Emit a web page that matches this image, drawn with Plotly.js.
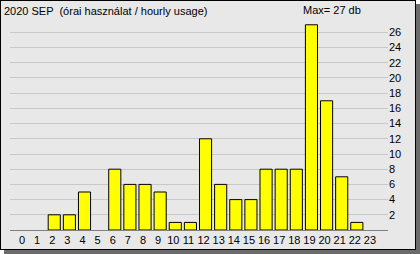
<!DOCTYPE html>
<html>
<head>
<meta charset="utf-8">
<script src="https://cdn.plot.ly/plotly-3.0.1.min.js"></script>
<style>
  html, body { margin: 0; padding: 0; background: #ffffff; }
  #frame {
    position: absolute; left: 0; top: 0;
    width: 416px; height: 250px; box-sizing: border-box;
    border: 1px solid #000000;
    box-shadow: 4px 4px 0 #6b6b6b;
    background: #e8e8e8;
  }
  #chart { width: 414px; height: 248px; }
</style>
</head>
<body>
<div id="frame"><div id="chart"></div></div>
<script>
const titleText = "2020 SEP  (órai használat / hourly usage)";
const hours = [0,1,2,3,4,5,6,7,8,9,10,11,12,13,14,15,16,17,18,19,20,21,22,23];
const usage = [0,0,2,2,5,0,8,6,6,5,1,1,12,6,4,4,8,8,8,27,17,7,1,0];
const yTicks = [2,4,6,8,10,12,14,16,18,20,22,24,26];

const maxVal = Math.max(...usage);
const font = { family: "Liberation Sans, Arial, sans-serif", size: 11, color: "#000000" };

const trace = {
  type: "bar",
  x: hours,
  y: usage.map(v => (v === 0 ? null : v)),
  marker: { color: "#ffff00", line: { color: "#000000", width: 1 } },
  hoverinfo: "none"
};

const layout = {
  width: 414, height: 248,
  margin: { l: 9, r: 27, t: 19, b: 19, pad: 0 },
  paper_bgcolor: "#e8e8e8",
  plot_bgcolor: "#e8e8e8",
  font: font,
  bargap: 0.2,
  showlegend: false,
  title: { text: titleText, font: font, x: 0, xref: "paper", xanchor: "left", y: 1, yref: "container", yanchor: "top", pad: { t: 6, l: -6 } },
  xaxis: {
    range: [-0.925, 24.06],
    tickmode: "array", tickvals: hours, ticktext: hours.map(String),
    ticks: "", showgrid: false, zeroline: false,
    showline: true, linecolor: "#808080", linewidth: 1,
    ticklabelshift: -2,
    tickfont: font, fixedrange: true
  },
  yaxis: {
    range: [0, 27.63],
    side: "right",
    tickmode: "array", tickvals: yTicks, ticktext: yTicks.map(String),
    ticks: "", showgrid: true, gridcolor: "#c8c8c8", gridwidth: 1,
    zeroline: false, showline: false,
    tickfont: font, fixedrange: true
  },
  annotations: [{
    text: "Max= " + maxVal + " db",
    xref: "paper", yref: "paper", x: 0.77, y: 1.0, xanchor: "left", yanchor: "bottom",
    yshift: 2, showarrow: false, font: font
  }]
};

Plotly.newPlot("chart", [trace], layout, { staticPlot: true, displayModeBar: false });
</script>
</body>
</html>
